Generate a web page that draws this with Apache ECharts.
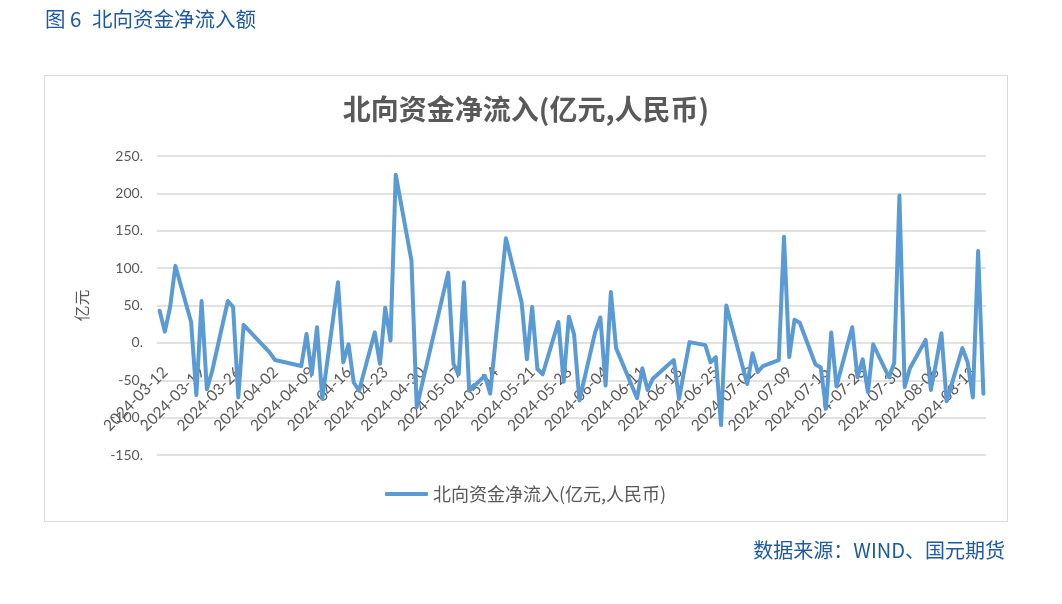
<!DOCTYPE html>
<html>
<head>
<meta charset="utf-8">
<script src="https://cdn.jsdelivr.net/npm/echarts@6/dist/echarts.min.js"></script>
<style>
html,body{margin:0;padding:0;background:#fff;}
#chart{width:1062px;height:604px;}
</style>
</head>
<body>
<div id="chart"></div>
<script>
// ---- data ----
const dates = [
 '2024-03-12','2024-03-13','2024-03-14','2024-03-15','2024-03-18','2024-03-19','2024-03-20','2024-03-21','2024-03-22',
 '2024-03-25','2024-03-26','2024-03-27','2024-03-28','2024-04-02','2024-04-03','2024-04-08','2024-04-09','2024-04-10',
 '2024-04-11','2024-04-12','2024-04-15','2024-04-16','2024-04-17','2024-04-18','2024-04-19','2024-04-22','2024-04-23',
 '2024-04-24','2024-04-25','2024-04-26','2024-04-29','2024-04-30','2024-05-06','2024-05-07','2024-05-08','2024-05-09',
 '2024-05-10','2024-05-13','2024-05-14','2024-05-16','2024-05-17','2024-05-20','2024-05-21','2024-05-22','2024-05-23',
 '2024-05-24','2024-05-27','2024-05-28','2024-05-29','2024-05-30','2024-05-31','2024-06-03','2024-06-04','2024-06-05',
 '2024-06-06','2024-06-07','2024-06-11','2024-06-12','2024-06-13','2024-06-14','2024-06-17','2024-06-18','2024-06-19',
 '2024-06-20','2024-06-21','2024-06-24','2024-06-25','2024-06-26','2024-06-27','2024-06-28','2024-07-02','2024-07-03',
 '2024-07-04','2024-07-05','2024-07-08','2024-07-09','2024-07-10','2024-07-11','2024-07-12','2024-07-15','2024-07-16',
 '2024-07-17','2024-07-18','2024-07-19','2024-07-22','2024-07-23','2024-07-24','2024-07-25','2024-07-26','2024-07-29',
 '2024-07-30','2024-07-31','2024-08-01','2024-08-02','2024-08-05','2024-08-06','2024-08-07','2024-08-08','2024-08-09',
 '2024-08-12','2024-08-13','2024-08-14','2024-08-15','2024-08-16'
];
const netInflow = [
 43,15,48,103,28,-70,56,-62,-38,
 56,48,-73,24,-13,-23,-31,12,-42,
 21,-75,81,-26,-2,-53,-64,14,-28,
 47,3,225,110,-86,94,-28,-42,81,
 -64,-44,-68,70,140,54,-22,48,-35,
 -42,28,-52,35,11,-77,14,34,-57,
 68,-7,-74,-34,-63,-48,-29,-23,-75,
 -36,1,-3,-26,-19,-110,50,-55,-14,
 -39,-31,-23,142,-19,31,27,-29,-33,
 -88,14,-58,21,-46,-22,-66,-2,-46,
 -27,197,-59,-34,4,-63,-26,13,-78,
 -7,-26,-73,123,-68
];
const tickLabels = [
 '2024-03-12','2024-03-19','2024-03-26','2024-04-02','2024-04-09','2024-04-16','2024-04-23','2024-04-30',
 '2024-05-07','2024-05-14','2024-05-21','2024-05-28','2024-06-04','2024-06-11','2024-06-18','2024-06-25',
 '2024-07-02','2024-07-09','2024-07-16','2024-07-23','2024-07-30','2024-08-06','2024-08-13'
];
const yTicks = [-150,-100,-50,0,50,100,150,200,250];
const seriesName = '北向资金净流入(亿元,人民币)';

// ---- helpers ----
const DAY = 86400000;
const startMs = Date.parse(dates[0] + 'T00:00:00Z');
const toIdx = d => Math.round((Date.parse(d + 'T00:00:00Z') - startMs) / DAY);
const idxToLabel = i => {
  const dt = new Date(startMs + Math.round(i) * DAY);
  return dt.toISOString().slice(0, 10);
};
const points = dates.map((d, i) => [toIdx(d), netInflow[i]]);
const tickIdx = tickLabels.map(toIdx);
const lastIdx = toIdx(dates[dates.length - 1]);

const grey = '#595959';
const blue = '#1e5aa0';

// plot geometry
const gridTop = 156, gridBottom = 149, chartH = 604;
const plotH = chartH - gridTop - gridBottom;
// distance (px) from the bottom edge of the plot up to the value-0 line
const zeroRise = plotH * (0 - yTicks[0]) / (yTicks[yTicks.length - 1] - yTicks[0]);

const chart = echarts.init(document.getElementById('chart'), null, {renderer: 'canvas'});
chart.setOption({
  animation: false,
  backgroundColor: '#ffffff',
  title: {
    text: '北向资金净流入(亿元,人民币)',
    left: 526,
    textAlign: 'center',
    top: 95,
    padding: 0,
    textStyle: {fontFamily: 'Noto Sans CJK SC', fontWeight: 'bold', fontSize: 28, color: grey}
  },
  graphic: [
    {type: 'rect', shape: {x: 44.5, y: 75.5, width: 963, height: 446},
     style: {fill: 'none', stroke: '#d9d9d9', lineWidth: 1}, z: -1},
    {type: 'text', left: 45, top: 9,
     style: {text: '图', fill: blue, font: '20.5px "Noto Sans CJK SC"'}},
    {type: 'text', left: 70, top: 9,
     style: {text: '6', fill: blue, font: '20.5px "Noto Sans CJK SC"'}},
    {type: 'text', left: 92, top: 9,
     style: {text: '北向资金净流入额', fill: blue, font: '20.5px "Noto Sans CJK SC"'}},
    {type: 'text', right: 57, top: 540,
     style: {text: '数据来源：WIND、国元期货', fill: blue, font: '20px "Noto Sans CJK SC"'}}
  ],
  legend: {
    left: 380,
    top: 480,
    icon: 'roundRect',
    itemWidth: 43,
    itemHeight: 4,
    itemGap: 5,
    textStyle: {fontFamily: 'Noto Sans CJK SC', fontSize: 18, color: grey},
    data: [seriesName]
  },
  grid: {left: 157, right: 76, top: gridTop, bottom: gridBottom, containLabel: false},
  xAxis: {
    type: 'value',
    min: -0.5,
    max: lastIdx + 0.5,
    axisLine: {show: false, onZero: false},
    axisTick: {show: false},
    splitLine: {show: false},
    axisLabel: {
      customValues: tickIdx,
      rotate: 45,
      // labels hang just below the value-0 line, as in the original
      margin: 21 - zeroRise,
      verticalAlign: 'top',
      color: grey,
      fontFamily: 'Lato',
      fontSize: 15.5,
      formatter: v => idxToLabel(v)
    }
  },
  yAxis: {
    type: 'value',
    min: yTicks[0],
    max: yTicks[yTicks.length - 1],
    interval: 50,
    name: '亿元',
    nameLocation: 'middle',
    nameGap: 67,
    nameRotate: 90,
    nameTextStyle: {color: grey, fontFamily: 'Noto Sans CJK SC', fontSize: 16},
    axisLine: {show: false, onZero: false},
    axisTick: {show: false},
    splitLine: {lineStyle: {color: '#d9d9d9', width: 1.5}},
    axisLabel: {color: grey, fontFamily: 'Lato', fontSize: 14, margin: 14, formatter: v => v + '.'}
  },
  series: [{
    name: seriesName,
    type: 'line',
    data: points,
    symbol: 'none',
    lineStyle: {color: '#5b9bd5', width: 4, join: 'round', cap: 'round'},
    itemStyle: {color: '#5b9bd5'}
  }]
});
</script>
</body>
</html>
